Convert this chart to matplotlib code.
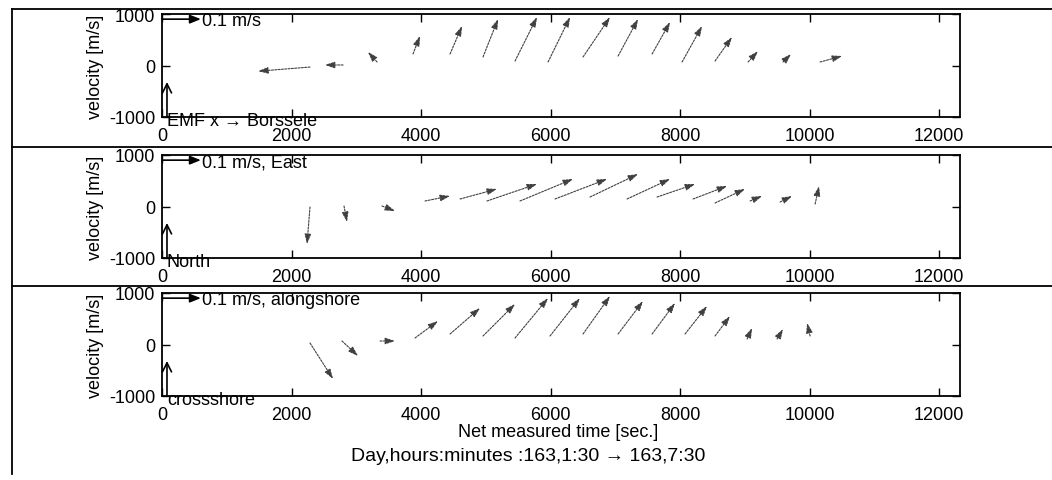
import matplotlib
matplotlib.use("Agg")
import matplotlib.pyplot as plt
from matplotlib.lines import Line2D

plt.rcParams['font.family'] = ['Liberation Sans', 'DejaVu Sans']
plt.rcParams['font.size'] = 13
plt.rcParams['axes.unicode_minus'] = False

# stick data: tail time [s], tail position, arrow components (plot units)
emf_t = [2285, 2795, 3320, 3875, 4447, 4956, 5450, 5960, 6500, 7041, 7566, 8029, 8538, 9048, 9588, 10160]
emf_y = [-30, 10, 68, 223, 223, 165, 87, 68, 165, 184, 223, 68, 87, 68, 68, 68]
emf_u = [-800, -280, -140, 108, 185, 232, 340, 340, 417, 309, 278, 309, 262, 154, 124, 340]
emf_v = [-80, 0, 195, 350, 543, 737, 854, 873, 776, 718, 621, 698, 466, 213, 155, 116]

en_t = [2285, 2810, 3397, 4061, 4601, 5017, 5527, 6068, 6608, 7180, 7643, 8199, 8538, 9079, 9542, 10083]
en_y = [-10, 10, 10, 107, 146, 107, 107, 146, 184, 146, 184, 146, 68, 107, 87, 48]
en_u = [-46, 46, 200, 386, 571, 772, 818, 803, 741, 664, 587, 525, 463, 185, 185, 62]
en_v = [-718, -310, -97, 97, 194, 330, 427, 388, 446, 388, 252, 252, 272, 97, 116, 349]

ac_t = [2285, 2779, 3366, 3906, 4447, 4956, 5450, 5990, 6500, 7041, 7566, 8075, 8538, 9033, 9496, 10006]
ac_y = [29, 68, 68, 126, 204, 165, 126, 165, 204, 204, 204, 204, 165, 107, 107, 165]
ac_u = [355, 247, 232, 355, 463, 494, 510, 463, 417, 386, 355, 340, 232, 77, 93, -46]
ac_v = [-698, -291, 0, 330, 504, 621, 776, 737, 737, 640, 601, 543, 388, 213, 194, 252]

scale_labels = ['0.1 m/s', '0.1 m/s, East', '0.1 m/s, alongshore']
up_labels = ['EMF x \u2192 Borssele', 'North', 'crossshore']
panels = [(emf_t, emf_y, emf_u, emf_v), (en_t, en_y, en_u, en_v), (ac_t, ac_y, ac_u, ac_v)]

fig = plt.figure(figsize=(10.52, 4.81), dpi=100)
W, H = 1052.0, 481.0
tops = [15, 156, 294]
left, right, h = 162, 960, 103

for k in range(3):
    ax = fig.add_axes([left / W, 1 - (tops[k] + h) / H, (right - left) / W, h / H])
    ax.set_xlim(0, 12320)
    ax.set_ylim(-1000, 1000)
    ax.set_xticks(range(0, 12001, 2000))
    ax.set_yticks([-1000, 0, 1000])
    ax.tick_params(direction='in', length=6, width=1, top=True, right=True, pad=5)
    ax.tick_params(axis='x', pad=7)
    for s in ax.spines.values():
        s.set_linewidth(1.3)
    ax.set_ylabel('velocity [m/s]')
    ax.yaxis.set_label_coords((104 - left) / (right - left), 0.5)

    t, y, u, v = panels[k]
    for i in range(len(t)):
        ax.annotate('', xy=(t[i] + u[i], y[i] + v[i]), xytext=(t[i], y[i]),
                    arrowprops=dict(arrowstyle='-|>,head_length=0.45,head_width=0.15',
                                    lw=0.8, color='0.25', ls=(0, (1.8, 1.2)),
                                    shrinkA=0, shrinkB=0))

    # scale arrows
    ax.annotate('', xy=(600, 900), xytext=(0, 900),
                arrowprops=dict(arrowstyle='-|>,head_length=0.5,head_width=0.2', lw=1.2,
                                color='k', shrinkA=0, shrinkB=0))
    ax.text(620, 870, scale_labels[k], ha='left', va='center')
    ax.annotate('', xy=(77, -320), xytext=(77, -1000),
                arrowprops=dict(arrowstyle='->,head_length=0.5,head_width=0.25', lw=1.2,
                                color='k', shrinkA=0, shrinkB=0))
    ax.text(77, -1060, up_labels[k], ha='left', va='center', clip_on=False)

fig.text(558 / W, 1 - 433 / H, 'Net measured time [sec.]', ha='center', va='center')
fig.text(528 / W, 1 - 457 / H, 'Day,hours:minutes :163,1:30 \u2192 163,7:30',
         ha='center', va='center', fontsize=14)

# page frame lines from the scanned table
for yy in [10, 148, 287]:
    fig.add_artist(Line2D([12 / W, 1], [1 - yy / H, 1 - yy / H], color='k', lw=1.3))
fig.add_artist(Line2D([12 / W, 12 / W], [1 - 10 / H, 1 - 475 / H], color='k', lw=1.3))

fig.savefig('out.png', dpi=100)
